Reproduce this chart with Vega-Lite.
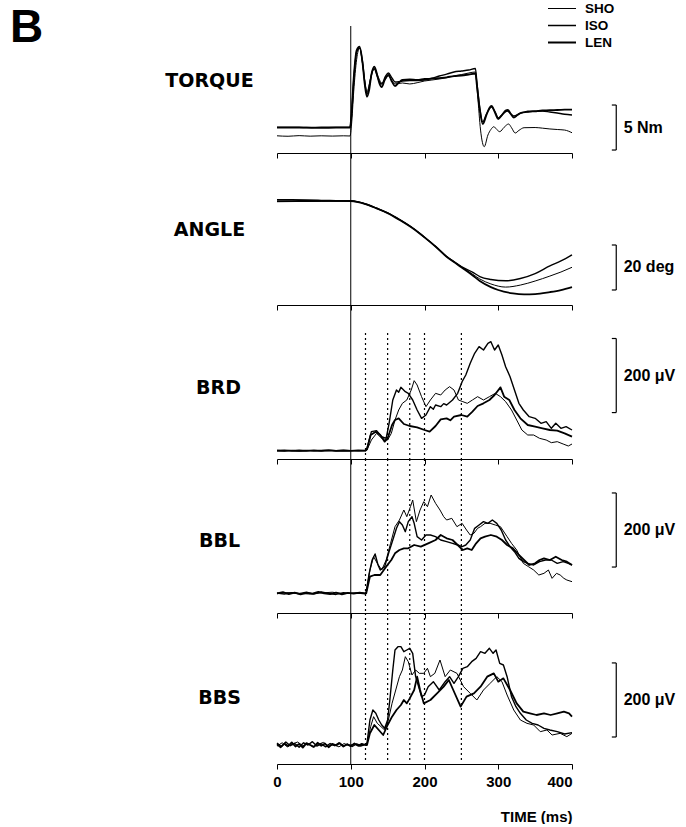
{
  "$schema": "https://vega.github.io/schema/vega-lite/v6.json",
  "background": "white",
  "padding": {"left": 10, "top": 0, "right": 0, "bottom": 0},
  "spacing": 0,
  "bounds": "flush",
  "config": {
    "view": {"stroke": null},
    "axis": {"grid": false, "domainColor": "black", "tickColor": "black", "labelColor": "black", "titleColor": "black"},
    "axisX": {"tickSize": 5, "domainWidth": 1, "tickWidth": 1, "labelFont": "Liberation Sans", "labelFontSize": 15, "labelFontWeight": "bold", "labelPadding": 5, "titleFont": "Liberation Sans", "titleFontSize": 15, "titleFontWeight": "bold"},
    "axisY": {"domain": false, "ticks": false, "labels": false, "titleAngle": 0, "titleAlign": "center", "titleBaseline": "middle", "titleFont": "DejaVu Sans", "titleFontSize": 19, "titleFontWeight": "bold"}
  },
  "datasets": {
    "torque": [
      {"cond":"LEN","t":0,"v":0},{"cond":"LEN","t":20,"v":0.02},{"cond":"LEN","t":40,"v":0},{"cond":"LEN","t":60,"v":-0.02},{"cond":"LEN","t":80,"v":0},{"cond":"LEN","t":99,"v":0},{"cond":"LEN","t":101,"v":1.5},{"cond":"LEN","t":104,"v":5.5},{"cond":"LEN","t":108,"v":8.6},{"cond":"LEN","t":112,"v":9.0},{"cond":"LEN","t":116,"v":7.2},{"cond":"LEN","t":119,"v":4.8},{"cond":"LEN","t":122,"v":3.44},{"cond":"LEN","t":125,"v":4.2},{"cond":"LEN","t":128,"v":5.9},{"cond":"LEN","t":132,"v":6.78},{"cond":"LEN","t":136,"v":5.8},{"cond":"LEN","t":139,"v":4.9},{"cond":"LEN","t":142,"v":4.52},{"cond":"LEN","t":146,"v":5.3},{"cond":"LEN","t":151,"v":5.86},{"cond":"LEN","t":156,"v":5.1},{"cond":"LEN","t":160,"v":4.63},{"cond":"LEN","t":165,"v":5.0},{"cond":"LEN","t":170,"v":5.3},{"cond":"LEN","t":180,"v":5.36},{"cond":"LEN","t":190,"v":5.3},{"cond":"LEN","t":200,"v":5.41},{"cond":"LEN","t":210,"v":5.45},{"cond":"LEN","t":220,"v":5.52},{"cond":"LEN","t":230,"v":5.6},{"cond":"LEN","t":240,"v":5.74},{"cond":"LEN","t":250,"v":5.8},{"cond":"LEN","t":260,"v":5.91},{"cond":"LEN","t":269,"v":6.02},{"cond":"LEN","t":271,"v":4.74},{"cond":"LEN","t":275,"v":1.97},{"cond":"LEN","t":279,"v":0.41},{"cond":"LEN","t":284,"v":1.41},{"cond":"LEN","t":288,"v":2.2},{"cond":"LEN","t":291,"v":2.41},{"cond":"LEN","t":295,"v":1.8},{"cond":"LEN","t":300,"v":0.97},{"cond":"LEN","t":305,"v":1.4},{"cond":"LEN","t":310,"v":1.9},{"cond":"LEN","t":313,"v":1.97},{"cond":"LEN","t":317,"v":1.52},{"cond":"LEN","t":321,"v":1.13},{"cond":"LEN","t":326,"v":1.4},{"cond":"LEN","t":330,"v":1.63},{"cond":"LEN","t":340,"v":1.8},{"cond":"LEN","t":350,"v":1.85},{"cond":"LEN","t":360,"v":1.91},{"cond":"LEN","t":370,"v":1.95},{"cond":"LEN","t":380,"v":1.97},{"cond":"LEN","t":390,"v":2.0},{"cond":"LEN","t":400,"v":2.02},
      {"cond":"ISO","t":0,"v":0.05},{"cond":"ISO","t":20,"v":0.07},{"cond":"ISO","t":40,"v":0.03},{"cond":"ISO","t":60,"v":0.05},{"cond":"ISO","t":80,"v":0.06},{"cond":"ISO","t":99,"v":0.05},{"cond":"ISO","t":101,"v":1.3},{"cond":"ISO","t":104,"v":5.2},{"cond":"ISO","t":108,"v":8.4},{"cond":"ISO","t":112,"v":8.86},{"cond":"ISO","t":116,"v":7.3},{"cond":"ISO","t":119,"v":5.1},{"cond":"ISO","t":122,"v":3.74},{"cond":"ISO","t":126,"v":5.0},{"cond":"ISO","t":129,"v":6.2},{"cond":"ISO","t":132,"v":6.52},{"cond":"ISO","t":136,"v":5.7},{"cond":"ISO","t":139,"v":5.1},{"cond":"ISO","t":142,"v":4.86},{"cond":"ISO","t":147,"v":5.7},{"cond":"ISO","t":151,"v":6.08},{"cond":"ISO","t":156,"v":5.5},{"cond":"ISO","t":160,"v":5.08},{"cond":"ISO","t":165,"v":5.1},{"cond":"ISO","t":170,"v":5.19},{"cond":"ISO","t":180,"v":5.25},{"cond":"ISO","t":190,"v":5.25},{"cond":"ISO","t":200,"v":5.3},{"cond":"ISO","t":210,"v":5.5},{"cond":"ISO","t":220,"v":5.74},{"cond":"ISO","t":230,"v":5.95},{"cond":"ISO","t":240,"v":6.19},{"cond":"ISO","t":250,"v":6.3},{"cond":"ISO","t":260,"v":6.41},{"cond":"ISO","t":269,"v":6.58},{"cond":"ISO","t":271,"v":5.08},{"cond":"ISO","t":275,"v":2.19},{"cond":"ISO","t":279,"v":0.63},{"cond":"ISO","t":284,"v":1.52},{"cond":"ISO","t":291,"v":2.3},{"cond":"ISO","t":296,"v":1.7},{"cond":"ISO","t":300,"v":1.08},{"cond":"ISO","t":306,"v":1.5},{"cond":"ISO","t":312,"v":1.86},{"cond":"ISO","t":317,"v":1.55},{"cond":"ISO","t":321,"v":1.3},{"cond":"ISO","t":330,"v":1.6},{"cond":"ISO","t":340,"v":1.74},{"cond":"ISO","t":350,"v":1.8},{"cond":"ISO","t":360,"v":1.86},{"cond":"ISO","t":370,"v":1.75},{"cond":"ISO","t":380,"v":1.63},{"cond":"ISO","t":390,"v":1.5},{"cond":"ISO","t":400,"v":1.41},
      {"cond":"SHO","t":0,"v":-0.9},{"cond":"SHO","t":15,"v":-0.95},{"cond":"SHO","t":30,"v":-0.88},{"cond":"SHO","t":45,"v":-0.94},{"cond":"SHO","t":60,"v":-0.9},{"cond":"SHO","t":75,"v":-0.93},{"cond":"SHO","t":90,"v":-0.9},{"cond":"SHO","t":99,"v":-0.92},{"cond":"SHO","t":101,"v":0.3},{"cond":"SHO","t":104,"v":4.0},{"cond":"SHO","t":108,"v":7.6},{"cond":"SHO","t":112,"v":8.86},{"cond":"SHO","t":116,"v":7.1},{"cond":"SHO","t":119,"v":5.2},{"cond":"SHO","t":122,"v":3.97},{"cond":"SHO","t":127,"v":5.52},{"cond":"SHO","t":132,"v":6.63},{"cond":"SHO","t":137,"v":5.7},{"cond":"SHO","t":142,"v":4.97},{"cond":"SHO","t":147,"v":5.4},{"cond":"SHO","t":151,"v":5.74},{"cond":"SHO","t":156,"v":5.2},{"cond":"SHO","t":160,"v":4.86},{"cond":"SHO","t":170,"v":4.97},{"cond":"SHO","t":180,"v":4.86},{"cond":"SHO","t":190,"v":5.0},{"cond":"SHO","t":200,"v":5.19},{"cond":"SHO","t":210,"v":5.3},{"cond":"SHO","t":220,"v":5.41},{"cond":"SHO","t":230,"v":5.55},{"cond":"SHO","t":240,"v":5.74},{"cond":"SHO","t":250,"v":5.9},{"cond":"SHO","t":260,"v":6.08},{"cond":"SHO","t":269,"v":6.19},{"cond":"SHO","t":272,"v":3.63},{"cond":"SHO","t":276,"v":-0.26},{"cond":"SHO","t":281,"v":-2.11},{"cond":"SHO","t":286,"v":-0.81},{"cond":"SHO","t":290,"v":-0.2},{"cond":"SHO","t":294,"v":0.11},{"cond":"SHO","t":298,"v":-0.2},{"cond":"SHO","t":302,"v":-0.44},{"cond":"SHO","t":308,"v":0.05},{"cond":"SHO","t":314,"v":0.41},{"cond":"SHO","t":318,"v":0.0},{"cond":"SHO","t":323,"v":-0.59},{"cond":"SHO","t":328,"v":-0.3},{"cond":"SHO","t":335,"v":0.0},{"cond":"SHO","t":350,"v":0.02},{"cond":"SHO","t":360,"v":-0.05},{"cond":"SHO","t":370,"v":-0.14},{"cond":"SHO","t":380,"v":-0.2},{"cond":"SHO","t":390,"v":-0.26},{"cond":"SHO","t":400,"v":-0.56}
    ],
    "angle": [
      {"cond":"LEN","t":0,"v":100.4},{"cond":"LEN","t":20,"v":100.35},{"cond":"LEN","t":40,"v":100.2},{"cond":"LEN","t":60,"v":100.05},{"cond":"LEN","t":80,"v":99.95},{"cond":"LEN","t":100,"v":99.87},{"cond":"LEN","t":110,"v":99.4},{"cond":"LEN","t":120,"v":98.5},{"cond":"LEN","t":135,"v":96.6},{"cond":"LEN","t":150,"v":94.5},{"cond":"LEN","t":167,"v":91.3},{"cond":"LEN","t":185,"v":87.5},{"cond":"LEN","t":200,"v":83.7},{"cond":"LEN","t":215,"v":79.6},{"cond":"LEN","t":230,"v":75.1},{"cond":"LEN","t":240,"v":72.7},{"cond":"LEN","t":250,"v":70.4},{"cond":"LEN","t":265,"v":66.9},{"cond":"LEN","t":275,"v":64.3},{"cond":"LEN","t":290,"v":61.6},{"cond":"LEN","t":300,"v":60.3},{"cond":"LEN","t":320,"v":58.8},{"cond":"LEN","t":335,"v":58.4},{"cond":"LEN","t":350,"v":58.5},{"cond":"LEN","t":370,"v":59.4},{"cond":"LEN","t":385,"v":60.3},{"cond":"LEN","t":400,"v":61.6},
      {"cond":"ISO","t":0,"v":99.7},{"cond":"ISO","t":30,"v":99.75},{"cond":"ISO","t":60,"v":99.8},{"cond":"ISO","t":80,"v":99.85},{"cond":"ISO","t":100,"v":99.87},{"cond":"ISO","t":110,"v":99.45},{"cond":"ISO","t":120,"v":98.55},{"cond":"ISO","t":135,"v":96.65},{"cond":"ISO","t":150,"v":94.55},{"cond":"ISO","t":167,"v":91.45},{"cond":"ISO","t":185,"v":87.65},{"cond":"ISO","t":200,"v":83.75},{"cond":"ISO","t":215,"v":79.7},{"cond":"ISO","t":230,"v":75.2},{"cond":"ISO","t":240,"v":72.9},{"cond":"ISO","t":250,"v":70.7},{"cond":"ISO","t":265,"v":68.3},{"cond":"ISO","t":275,"v":66.3},{"cond":"ISO","t":290,"v":65.0},{"cond":"ISO","t":310,"v":64.4},{"cond":"ISO","t":330,"v":65.4},{"cond":"ISO","t":350,"v":67.6},{"cond":"ISO","t":370,"v":71.0},{"cond":"ISO","t":385,"v":73.2},{"cond":"ISO","t":400,"v":75.9},
      {"cond":"SHO","t":0,"v":99.55},{"cond":"SHO","t":30,"v":99.65},{"cond":"SHO","t":60,"v":99.75},{"cond":"SHO","t":80,"v":99.82},{"cond":"SHO","t":100,"v":99.87},{"cond":"SHO","t":110,"v":99.45},{"cond":"SHO","t":120,"v":98.55},{"cond":"SHO","t":135,"v":96.65},{"cond":"SHO","t":150,"v":94.55},{"cond":"SHO","t":167,"v":91.45},{"cond":"SHO","t":185,"v":87.65},{"cond":"SHO","t":200,"v":83.75},{"cond":"SHO","t":215,"v":79.7},{"cond":"SHO","t":230,"v":75.15},{"cond":"SHO","t":240,"v":72.85},{"cond":"SHO","t":250,"v":70.6},{"cond":"SHO","t":265,"v":67.4},{"cond":"SHO","t":275,"v":65.2},{"cond":"SHO","t":290,"v":63.0},{"cond":"SHO","t":310,"v":61.6},{"cond":"SHO","t":330,"v":62.5},{"cond":"SHO","t":350,"v":64.3},{"cond":"SHO","t":370,"v":66.5},{"cond":"SHO","t":385,"v":68.3},{"cond":"SHO","t":400,"v":70.4}
    ],
    "brd": [
      {"cond":"ISO","t":0,"v":0.5},{"cond":"ISO","t":10,"v":-0.9},{"cond":"ISO","t":20,"v":0.9},{"cond":"ISO","t":30,"v":-0.5},{"cond":"ISO","t":40,"v":0.7},{"cond":"ISO","t":50,"v":-0.7},{"cond":"ISO","t":60,"v":0.4},{"cond":"ISO","t":70,"v":1.5},{"cond":"ISO","t":80,"v":-0.4},{"cond":"ISO","t":90,"v":1.2},{"cond":"ISO","t":100,"v":0},{"cond":"ISO","t":110,"v":-0.6},{"cond":"ISO","t":120,"v":0.5},{"cond":"ISO","t":122,"v":6.3},{"cond":"ISO","t":128,"v":51.3},{"cond":"ISO","t":135,"v":54},{"cond":"ISO","t":142,"v":37.8},{"cond":"ISO","t":148,"v":33.3},{"cond":"ISO","t":152,"v":73.8},{"cond":"ISO","t":157,"v":136.8},{"cond":"ISO","t":162,"v":163.8},{"cond":"ISO","t":165,"v":158},{"cond":"ISO","t":168,"v":171},{"cond":"ISO","t":174,"v":159.3},{"cond":"ISO","t":178,"v":154.8},{"cond":"ISO","t":184,"v":136.8},{"cond":"ISO","t":190,"v":109.8},{"cond":"ISO","t":196,"v":87.3},{"cond":"ISO","t":202,"v":96.3},{"cond":"ISO","t":208,"v":118.8},{"cond":"ISO","t":212,"v":112},{"cond":"ISO","t":215,"v":123.3},{"cond":"ISO","t":222,"v":118.8},{"cond":"ISO","t":226,"v":127},{"cond":"ISO","t":230,"v":123.3},{"cond":"ISO","t":238,"v":136.8},{"cond":"ISO","t":245,"v":154.8},{"cond":"ISO","t":251,"v":186.3},{"cond":"ISO","t":256,"v":204.3},{"cond":"ISO","t":262,"v":235.8},{"cond":"ISO","t":268,"v":262.8},{"cond":"ISO","t":274,"v":280.8},{"cond":"ISO","t":280,"v":271.8},{"cond":"ISO","t":286,"v":289.8},{"cond":"ISO","t":290,"v":294.3},{"cond":"ISO","t":295,"v":271.8},{"cond":"ISO","t":300,"v":285.3},{"cond":"ISO","t":305,"v":258.3},{"cond":"ISO","t":310,"v":226.8},{"cond":"ISO","t":316,"v":199.8},{"cond":"ISO","t":322,"v":163.8},{"cond":"ISO","t":328,"v":127.8},{"cond":"ISO","t":334,"v":109.8},{"cond":"ISO","t":342,"v":91.8},{"cond":"ISO","t":350,"v":87.3},{"cond":"ISO","t":358,"v":73.8},{"cond":"ISO","t":365,"v":78.3},{"cond":"ISO","t":372,"v":60.3},{"cond":"ISO","t":378,"v":73.8},{"cond":"ISO","t":385,"v":60.3},{"cond":"ISO","t":392,"v":64.8},{"cond":"ISO","t":400,"v":55.8},
      {"cond":"LEN","t":0,"v":0},{"cond":"LEN","t":10,"v":0.8},{"cond":"LEN","t":20,"v":-0.5},{"cond":"LEN","t":30,"v":0.4},{"cond":"LEN","t":40,"v":-0.8},{"cond":"LEN","t":50,"v":0.6},{"cond":"LEN","t":60,"v":-0.3},{"cond":"LEN","t":70,"v":0.9},{"cond":"LEN","t":80,"v":-0.6},{"cond":"LEN","t":90,"v":0.3},{"cond":"LEN","t":100,"v":-0.4},{"cond":"LEN","t":110,"v":0.6},{"cond":"LEN","t":120,"v":0},{"cond":"LEN","t":122,"v":3.6},{"cond":"LEN","t":127,"v":42.3},{"cond":"LEN","t":134,"v":51.3},{"cond":"LEN","t":140,"v":42.3},{"cond":"LEN","t":146,"v":24.3},{"cond":"LEN","t":150,"v":33.3},{"cond":"LEN","t":156,"v":69.3},{"cond":"LEN","t":160,"v":82.8},{"cond":"LEN","t":165,"v":87.3},{"cond":"LEN","t":172,"v":72},{"cond":"LEN","t":180,"v":66.6},{"cond":"LEN","t":190,"v":63},{"cond":"LEN","t":200,"v":55.8},{"cond":"LEN","t":207,"v":51.3},{"cond":"LEN","t":215,"v":66.6},{"cond":"LEN","t":222,"v":84.6},{"cond":"LEN","t":230,"v":87.3},{"cond":"LEN","t":235,"v":82},{"cond":"LEN","t":240,"v":91.8},{"cond":"LEN","t":250,"v":96.3},{"cond":"LEN","t":258,"v":91.8},{"cond":"LEN","t":265,"v":105.3},{"cond":"LEN","t":272,"v":120.6},{"cond":"LEN","t":280,"v":127.8},{"cond":"LEN","t":288,"v":136.8},{"cond":"LEN","t":295,"v":150.3},{"cond":"LEN","t":303,"v":171},{"cond":"LEN","t":308,"v":145.8},{"cond":"LEN","t":315,"v":136.8},{"cond":"LEN","t":322,"v":109.8},{"cond":"LEN","t":330,"v":87.3},{"cond":"LEN","t":340,"v":69.3},{"cond":"LEN","t":350,"v":64.8},{"cond":"LEN","t":360,"v":60.3},{"cond":"LEN","t":370,"v":55.8},{"cond":"LEN","t":380,"v":54},{"cond":"LEN","t":390,"v":46.8},{"cond":"LEN","t":400,"v":37.8},
      {"cond":"SHO","t":0,"v":-0.5},{"cond":"SHO","t":15,"v":0.6},{"cond":"SHO","t":30,"v":-0.4},{"cond":"SHO","t":45,"v":0.5},{"cond":"SHO","t":60,"v":-0.6},{"cond":"SHO","t":75,"v":0.3},{"cond":"SHO","t":90,"v":-0.2},{"cond":"SHO","t":105,"v":0.4},{"cond":"SHO","t":120,"v":0},{"cond":"SHO","t":122,"v":1.8},{"cond":"SHO","t":128,"v":28.8},{"cond":"SHO","t":135,"v":46.8},{"cond":"SHO","t":142,"v":33.3},{"cond":"SHO","t":150,"v":28.8},{"cond":"SHO","t":155,"v":46.8},{"cond":"SHO","t":160,"v":82.8},{"cond":"SHO","t":165,"v":109.8},{"cond":"SHO","t":170,"v":127.8},{"cond":"SHO","t":176,"v":136.8},{"cond":"SHO","t":182,"v":163.8},{"cond":"SHO","t":186,"v":189},{"cond":"SHO","t":190,"v":177.3},{"cond":"SHO","t":196,"v":145.8},{"cond":"SHO","t":202,"v":118.8},{"cond":"SHO","t":208,"v":136.8},{"cond":"SHO","t":215,"v":154.8},{"cond":"SHO","t":222,"v":150.3},{"cond":"SHO","t":228,"v":163.8},{"cond":"SHO","t":234,"v":172.8},{"cond":"SHO","t":240,"v":163.8},{"cond":"SHO","t":246,"v":136.8},{"cond":"SHO","t":252,"v":132.3},{"cond":"SHO","t":258,"v":127.8},{"cond":"SHO","t":265,"v":136.8},{"cond":"SHO","t":272,"v":145.8},{"cond":"SHO","t":280,"v":136.8},{"cond":"SHO","t":288,"v":145.8},{"cond":"SHO","t":296,"v":154.8},{"cond":"SHO","t":303,"v":145.8},{"cond":"SHO","t":310,"v":132.3},{"cond":"SHO","t":318,"v":109.8},{"cond":"SHO","t":325,"v":82.8},{"cond":"SHO","t":332,"v":55.8},{"cond":"SHO","t":340,"v":42.3},{"cond":"SHO","t":348,"v":42.3},{"cond":"SHO","t":356,"v":33.3},{"cond":"SHO","t":365,"v":28.8},{"cond":"SHO","t":372,"v":21.6},{"cond":"SHO","t":380,"v":24.3},{"cond":"SHO","t":388,"v":18},{"cond":"SHO","t":395,"v":12.6},{"cond":"SHO","t":400,"v":18}
    ],
    "bbl": [
      {"cond":"ISO","t":0,"v":1},{"cond":"ISO","t":10,"v":-2},{"cond":"ISO","t":20,"v":2},{"cond":"ISO","t":30,"v":-1},{"cond":"ISO","t":40,"v":3},{"cond":"ISO","t":50,"v":-2},{"cond":"ISO","t":60,"v":4},{"cond":"ISO","t":70,"v":0},{"cond":"ISO","t":80,"v":-3},{"cond":"ISO","t":90,"v":2},{"cond":"ISO","t":100,"v":0},{"cond":"ISO","t":110,"v":1},{"cond":"ISO","t":120,"v":-1},{"cond":"ISO","t":121,"v":4.5},{"cond":"ISO","t":125,"v":54},{"cond":"ISO","t":129,"v":90},{"cond":"ISO","t":133,"v":106.2},{"cond":"ISO","t":137,"v":76.5},{"cond":"ISO","t":140,"v":63},{"cond":"ISO","t":146,"v":72},{"cond":"ISO","t":152,"v":112.5},{"cond":"ISO","t":157,"v":144},{"cond":"ISO","t":162,"v":175.5},{"cond":"ISO","t":166,"v":193.5},{"cond":"ISO","t":170,"v":184.5},{"cond":"ISO","t":174,"v":166.5},{"cond":"ISO","t":178,"v":193.5},{"cond":"ISO","t":183,"v":207},{"cond":"ISO","t":186,"v":189},{"cond":"ISO","t":190,"v":153},{"cond":"ISO","t":196,"v":144},{"cond":"ISO","t":202,"v":157.5},{"cond":"ISO","t":208,"v":157.5},{"cond":"ISO","t":215,"v":153},{"cond":"ISO","t":222,"v":144},{"cond":"ISO","t":230,"v":139.5},{"cond":"ISO","t":238,"v":135},{"cond":"ISO","t":245,"v":130.5},{"cond":"ISO","t":251,"v":126},{"cond":"ISO","t":256,"v":130.5},{"cond":"ISO","t":262,"v":144},{"cond":"ISO","t":268,"v":175.5},{"cond":"ISO","t":274,"v":184.5},{"cond":"ISO","t":280,"v":193.5},{"cond":"ISO","t":286,"v":189},{"cond":"ISO","t":292,"v":198},{"cond":"ISO","t":298,"v":189},{"cond":"ISO","t":304,"v":171},{"cond":"ISO","t":310,"v":144},{"cond":"ISO","t":316,"v":126},{"cond":"ISO","t":322,"v":112.5},{"cond":"ISO","t":328,"v":94.5},{"cond":"ISO","t":334,"v":85.5},{"cond":"ISO","t":340,"v":81},{"cond":"ISO","t":348,"v":76.5},{"cond":"ISO","t":356,"v":85.5},{"cond":"ISO","t":364,"v":90},{"cond":"ISO","t":372,"v":90},{"cond":"ISO","t":380,"v":81},{"cond":"ISO","t":388,"v":85.5},{"cond":"ISO","t":395,"v":81},{"cond":"ISO","t":400,"v":76.5},
      {"cond":"SHO","t":0,"v":-1},{"cond":"SHO","t":15,"v":2},{"cond":"SHO","t":30,"v":0},{"cond":"SHO","t":45,"v":-2},{"cond":"SHO","t":60,"v":1},{"cond":"SHO","t":75,"v":3},{"cond":"SHO","t":90,"v":-1},{"cond":"SHO","t":105,"v":1},{"cond":"SHO","t":120,"v":0},{"cond":"SHO","t":121,"v":1.8},{"cond":"SHO","t":126,"v":63},{"cond":"SHO","t":131,"v":99},{"cond":"SHO","t":136,"v":81},{"cond":"SHO","t":142,"v":63},{"cond":"SHO","t":148,"v":90},{"cond":"SHO","t":154,"v":135},{"cond":"SHO","t":160,"v":180},{"cond":"SHO","t":166,"v":198},{"cond":"SHO","t":172,"v":225},{"cond":"SHO","t":176,"v":207},{"cond":"SHO","t":181,"v":234},{"cond":"SHO","t":184,"v":252},{"cond":"SHO","t":189,"v":193.5},{"cond":"SHO","t":194,"v":225},{"cond":"SHO","t":199,"v":247.5},{"cond":"SHO","t":204,"v":234},{"cond":"SHO","t":209,"v":265.5},{"cond":"SHO","t":215,"v":243},{"cond":"SHO","t":221,"v":225},{"cond":"SHO","t":226,"v":207},{"cond":"SHO","t":230,"v":198},{"cond":"SHO","t":237,"v":202.5},{"cond":"SHO","t":244,"v":180},{"cond":"SHO","t":251,"v":189},{"cond":"SHO","t":257,"v":171},{"cond":"SHO","t":262,"v":157.5},{"cond":"SHO","t":267,"v":162},{"cond":"SHO","t":272,"v":175.5},{"cond":"SHO","t":276,"v":180},{"cond":"SHO","t":282,"v":189},{"cond":"SHO","t":289,"v":189},{"cond":"SHO","t":296,"v":184.5},{"cond":"SHO","t":303,"v":180},{"cond":"SHO","t":312,"v":153},{"cond":"SHO","t":318,"v":135},{"cond":"SHO","t":325,"v":117},{"cond":"SHO","t":334,"v":81},{"cond":"SHO","t":341,"v":72},{"cond":"SHO","t":348,"v":63},{"cond":"SHO","t":355,"v":49.5},{"cond":"SHO","t":362,"v":54},{"cond":"SHO","t":368,"v":63},{"cond":"SHO","t":373,"v":40.5},{"cond":"SHO","t":379,"v":54},{"cond":"SHO","t":384,"v":49.5},{"cond":"SHO","t":389,"v":40.5},{"cond":"SHO","t":393,"v":36},{"cond":"SHO","t":400,"v":31.5},
      {"cond":"LEN","t":0,"v":0},{"cond":"LEN","t":8,"v":3},{"cond":"LEN","t":16,"v":-2},{"cond":"LEN","t":24,"v":2},{"cond":"LEN","t":32,"v":-3},{"cond":"LEN","t":40,"v":1},{"cond":"LEN","t":48,"v":-1},{"cond":"LEN","t":56,"v":4},{"cond":"LEN","t":64,"v":0},{"cond":"LEN","t":72,"v":-2},{"cond":"LEN","t":80,"v":2},{"cond":"LEN","t":88,"v":-3},{"cond":"LEN","t":96,"v":1},{"cond":"LEN","t":104,"v":-1},{"cond":"LEN","t":112,"v":2},{"cond":"LEN","t":120,"v":0},{"cond":"LEN","t":121,"v":0},{"cond":"LEN","t":126,"v":45},{"cond":"LEN","t":132,"v":49.5},{"cond":"LEN","t":140,"v":49.5},{"cond":"LEN","t":148,"v":72},{"cond":"LEN","t":155,"v":90},{"cond":"LEN","t":160,"v":108},{"cond":"LEN","t":166,"v":117},{"cond":"LEN","t":172,"v":121.5},{"cond":"LEN","t":178,"v":121.5},{"cond":"LEN","t":186,"v":130.5},{"cond":"LEN","t":195,"v":126},{"cond":"LEN","t":205,"v":135},{"cond":"LEN","t":215,"v":144},{"cond":"LEN","t":222,"v":157.5},{"cond":"LEN","t":230,"v":148.5},{"cond":"LEN","t":238,"v":144},{"cond":"LEN","t":245,"v":130.5},{"cond":"LEN","t":252,"v":117},{"cond":"LEN","t":258,"v":121.5},{"cond":"LEN","t":264,"v":117},{"cond":"LEN","t":270,"v":135},{"cond":"LEN","t":276,"v":148.5},{"cond":"LEN","t":282,"v":153},{"cond":"LEN","t":290,"v":157.5},{"cond":"LEN","t":298,"v":153},{"cond":"LEN","t":305,"v":144},{"cond":"LEN","t":312,"v":130.5},{"cond":"LEN","t":320,"v":121.5},{"cond":"LEN","t":328,"v":103.5},{"cond":"LEN","t":335,"v":90},{"cond":"LEN","t":342,"v":76.5},{"cond":"LEN","t":350,"v":81},{"cond":"LEN","t":356,"v":90},{"cond":"LEN","t":362,"v":94.5},{"cond":"LEN","t":370,"v":90},{"cond":"LEN","t":378,"v":99},{"cond":"LEN","t":386,"v":90},{"cond":"LEN","t":393,"v":85.5},{"cond":"LEN","t":400,"v":76.5}
    ],
    "bbs": [
      {"cond":"ISO","t":0,"v":5},{"cond":"ISO","t":6,"v":-4},{"cond":"ISO","t":12,"v":8},{"cond":"ISO","t":18,"v":-2},{"cond":"ISO","t":24,"v":4},{"cond":"ISO","t":30,"v":-6},{"cond":"ISO","t":36,"v":6},{"cond":"ISO","t":42,"v":0},{"cond":"ISO","t":48,"v":9},{"cond":"ISO","t":54,"v":-3},{"cond":"ISO","t":60,"v":3},{"cond":"ISO","t":66,"v":-5},{"cond":"ISO","t":72,"v":4},{"cond":"ISO","t":78,"v":-2},{"cond":"ISO","t":84,"v":6},{"cond":"ISO","t":90,"v":-3},{"cond":"ISO","t":96,"v":2},{"cond":"ISO","t":102,"v":-4},{"cond":"ISO","t":108,"v":3},{"cond":"ISO","t":114,"v":-2},{"cond":"ISO","t":120,"v":1},{"cond":"ISO","t":122,"v":4.5},{"cond":"ISO","t":126,"v":67.5},{"cond":"ISO","t":130,"v":94.5},{"cond":"ISO","t":134,"v":85.5},{"cond":"ISO","t":138,"v":67.5},{"cond":"ISO","t":142,"v":54},{"cond":"ISO","t":146,"v":45},{"cond":"ISO","t":150,"v":67.5},{"cond":"ISO","t":153,"v":121.5},{"cond":"ISO","t":157,"v":202.5},{"cond":"ISO","t":160,"v":256.5},{"cond":"ISO","t":164,"v":265.5},{"cond":"ISO","t":168,"v":265.5},{"cond":"ISO","t":172,"v":252},{"cond":"ISO","t":176,"v":256.5},{"cond":"ISO","t":180,"v":261},{"cond":"ISO","t":184,"v":247.5},{"cond":"ISO","t":188,"v":184.5},{"cond":"ISO","t":192,"v":157.5},{"cond":"ISO","t":196,"v":130.5},{"cond":"ISO","t":200,"v":135},{"cond":"ISO","t":205,"v":157.5},{"cond":"ISO","t":212,"v":171},{"cond":"ISO","t":220,"v":148.5},{"cond":"ISO","t":228,"v":171},{"cond":"ISO","t":234,"v":184.5},{"cond":"ISO","t":240,"v":166.5},{"cond":"ISO","t":246,"v":184.5},{"cond":"ISO","t":252,"v":207},{"cond":"ISO","t":258,"v":211.5},{"cond":"ISO","t":264,"v":225},{"cond":"ISO","t":270,"v":234},{"cond":"ISO","t":276,"v":252},{"cond":"ISO","t":282,"v":247.5},{"cond":"ISO","t":288,"v":261},{"cond":"ISO","t":293,"v":247.5},{"cond":"ISO","t":297,"v":256.5},{"cond":"ISO","t":302,"v":220.5},{"cond":"ISO","t":307,"v":216},{"cond":"ISO","t":312,"v":184.5},{"cond":"ISO","t":318,"v":130.5},{"cond":"ISO","t":324,"v":103.5},{"cond":"ISO","t":330,"v":85.5},{"cond":"ISO","t":338,"v":67.5},{"cond":"ISO","t":346,"v":58.5},{"cond":"ISO","t":354,"v":54},{"cond":"ISO","t":362,"v":45},{"cond":"ISO","t":370,"v":40.5},{"cond":"ISO","t":380,"v":36},{"cond":"ISO","t":390,"v":29.7},{"cond":"ISO","t":400,"v":33.3},
      {"cond":"SHO","t":0,"v":-3},{"cond":"SHO","t":7,"v":6},{"cond":"SHO","t":14,"v":-5},{"cond":"SHO","t":21,"v":3},{"cond":"SHO","t":28,"v":8},{"cond":"SHO","t":35,"v":-2},{"cond":"SHO","t":42,"v":4},{"cond":"SHO","t":49,"v":-6},{"cond":"SHO","t":56,"v":2},{"cond":"SHO","t":63,"v":7},{"cond":"SHO","t":70,"v":-3},{"cond":"SHO","t":77,"v":1},{"cond":"SHO","t":84,"v":-5},{"cond":"SHO","t":91,"v":4},{"cond":"SHO","t":98,"v":-2},{"cond":"SHO","t":105,"v":3},{"cond":"SHO","t":112,"v":-4},{"cond":"SHO","t":119,"v":2},{"cond":"SHO","t":122,"v":2.7},{"cond":"SHO","t":127,"v":49.5},{"cond":"SHO","t":131,"v":76.5},{"cond":"SHO","t":136,"v":58.5},{"cond":"SHO","t":141,"v":49.5},{"cond":"SHO","t":146,"v":40.5},{"cond":"SHO","t":151,"v":67.5},{"cond":"SHO","t":156,"v":112.5},{"cond":"SHO","t":161,"v":148.5},{"cond":"SHO","t":166,"v":184.5},{"cond":"SHO","t":170,"v":202.5},{"cond":"SHO","t":174,"v":238.5},{"cond":"SHO","t":178,"v":225},{"cond":"SHO","t":183,"v":189},{"cond":"SHO","t":188,"v":202.5},{"cond":"SHO","t":193,"v":193.5},{"cond":"SHO","t":199,"v":193.5},{"cond":"SHO","t":204,"v":207},{"cond":"SHO","t":208,"v":184.5},{"cond":"SHO","t":214,"v":193.5},{"cond":"SHO","t":221,"v":229.5},{"cond":"SHO","t":228,"v":184.5},{"cond":"SHO","t":235,"v":202.5},{"cond":"SHO","t":244,"v":193.5},{"cond":"SHO","t":253,"v":157.5},{"cond":"SHO","t":262,"v":139.5},{"cond":"SHO","t":271,"v":121.5},{"cond":"SHO","t":280,"v":148.5},{"cond":"SHO","t":289,"v":166.5},{"cond":"SHO","t":298,"v":184.5},{"cond":"SHO","t":305,"v":171},{"cond":"SHO","t":312,"v":135},{"cond":"SHO","t":321,"v":94.5},{"cond":"SHO","t":330,"v":67.5},{"cond":"SHO","t":339,"v":58.5},{"cond":"SHO","t":348,"v":54},{"cond":"SHO","t":357,"v":36},{"cond":"SHO","t":366,"v":40.5},{"cond":"SHO","t":373,"v":27},{"cond":"SHO","t":384,"v":31.5},{"cond":"SHO","t":393,"v":22.5},{"cond":"SHO","t":400,"v":31.5},
      {"cond":"LEN","t":0,"v":2},{"cond":"LEN","t":5,"v":-6},{"cond":"LEN","t":10,"v":4},{"cond":"LEN","t":15,"v":-3},{"cond":"LEN","t":20,"v":7},{"cond":"LEN","t":25,"v":-4},{"cond":"LEN","t":30,"v":3},{"cond":"LEN","t":35,"v":-7},{"cond":"LEN","t":40,"v":5},{"cond":"LEN","t":45,"v":0},{"cond":"LEN","t":50,"v":-5},{"cond":"LEN","t":55,"v":6},{"cond":"LEN","t":60,"v":-2},{"cond":"LEN","t":65,"v":4},{"cond":"LEN","t":70,"v":-6},{"cond":"LEN","t":75,"v":3},{"cond":"LEN","t":80,"v":-1},{"cond":"LEN","t":85,"v":5},{"cond":"LEN","t":90,"v":-4},{"cond":"LEN","t":95,"v":2},{"cond":"LEN","t":100,"v":-3},{"cond":"LEN","t":105,"v":4},{"cond":"LEN","t":110,"v":-2},{"cond":"LEN","t":115,"v":3},{"cond":"LEN","t":120,"v":0},{"cond":"LEN","t":122,"v":0},{"cond":"LEN","t":126,"v":31.5},{"cond":"LEN","t":132,"v":54},{"cond":"LEN","t":138,"v":40.5},{"cond":"LEN","t":144,"v":27},{"cond":"LEN","t":150,"v":54},{"cond":"LEN","t":156,"v":76.5},{"cond":"LEN","t":162,"v":94.5},{"cond":"LEN","t":168,"v":108},{"cond":"LEN","t":172,"v":121.5},{"cond":"LEN","t":176,"v":112.5},{"cond":"LEN","t":180,"v":126},{"cond":"LEN","t":186,"v":148.5},{"cond":"LEN","t":190,"v":184.5},{"cond":"LEN","t":194,"v":148.5},{"cond":"LEN","t":199,"v":112.5},{"cond":"LEN","t":208,"v":121.5},{"cond":"LEN","t":217,"v":139.5},{"cond":"LEN","t":226,"v":157.5},{"cond":"LEN","t":233,"v":175.5},{"cond":"LEN","t":239,"v":148.5},{"cond":"LEN","t":249,"v":103.5},{"cond":"LEN","t":257,"v":130.5},{"cond":"LEN","t":267,"v":139.5},{"cond":"LEN","t":276,"v":157.5},{"cond":"LEN","t":285,"v":184.5},{"cond":"LEN","t":294,"v":193.5},{"cond":"LEN","t":300,"v":171},{"cond":"LEN","t":307,"v":180},{"cond":"LEN","t":316,"v":148.5},{"cond":"LEN","t":325,"v":112.5},{"cond":"LEN","t":334,"v":90},{"cond":"LEN","t":343,"v":85.5},{"cond":"LEN","t":352,"v":81},{"cond":"LEN","t":362,"v":85.5},{"cond":"LEN","t":371,"v":81},{"cond":"LEN","t":380,"v":85.5},{"cond":"LEN","t":389,"v":90},{"cond":"LEN","t":396,"v":85.5},{"cond":"LEN","t":400,"v":76.5}
    ],
    "onset": [{"t": 100}],
    "markers": [{"t": 120}, {"t": 150}, {"t": 180}, {"t": 200}, {"t": 250}]
  },
  "vconcat": [
    {
      "width": 295, "height": 127,
      "layer": [
        {"data": {"name": "torque"}, "mark": {"type": "line", "color": "black", "interpolate": "monotone", "strokeJoin": "round"},
         "encoding": {
           "x": {"field": "t", "type": "quantitative", "scale": {"domain": [0, 400], "nice": false}, "axis": {"values": [0,50,100,150,200,250,300,350,400], "labels": false, "title": null}},
           "y": {"field": "v", "type": "quantitative", "scale": {"domain": [-2.81, 11.3], "nice": false, "zero": false}, "axis": {"title": "TORQUE", "titleX": -68, "titleY": 54}},
           "strokeWidth": {"field": "cond", "type": "ordinal", "scale": {"domain": ["SHO", "ISO", "LEN"], "range": [1, 1.8, 3.5]},
             "legend": {"orient": "none", "legendX": 270, "legendY": -26, "padding": 0, "title": null, "symbolType": "stroke", "symbolStrokeColor": "black", "symbolSize": 784, "clipHeight": 17, "rowPadding": 0, "labelFont": "Liberation Sans", "labelFontWeight": "bold", "labelFontSize": 13.5, "labelColor": "black", "labelOffset": 8,
               "encode": {"symbols": {"update": {"strokeWidth": {"scale": "strokeWidth", "field": "value"}}}}}}
         }},
        {"data": {"name": "onset"}, "mark": {"type": "rule", "color": "black", "strokeWidth": 1}, "encoding": {"x": {"field": "t", "type": "quantitative"}}},
        {"data": {"values": [{"label": "B"}]}, "mark": {"type": "text", "align": "left", "baseline": "alphabetic", "dy": 16, "font": "Liberation Sans", "fontSize": 46, "fontWeight": "bold", "color": "black"}, "encoding": {"x": {"datum": -362}, "y": {"datum": 11.3}, "text": {"field": "label"}}},
        {"data": {"values": [{"label": "5 Nm"}]}, "mark": {"type": "rule", "color": "black", "strokeWidth": 1.2}, "encoding": {"x": {"datum": 460}, "y": {"datum": -2.48}, "y2": {"datum": 2.52}}},
        {"data": {"values": [{"label": "5 Nm"}]}, "mark": {"type": "rule", "color": "black", "strokeWidth": 1.2}, "encoding": {"x": {"datum": 454}, "x2": {"datum": 460}, "y": {"datum": -2.48}}},
        {"data": {"values": [{"label": "5 Nm"}]}, "mark": {"type": "rule", "color": "black", "strokeWidth": 1.2}, "encoding": {"x": {"datum": 454}, "x2": {"datum": 460}, "y": {"datum": 2.52}}},
        {"data": {"values": [{"label": "5 Nm"}]}, "mark": {"type": "text", "align": "left", "baseline": "middle", "font": "Liberation Sans", "fontSize": 16, "fontWeight": "bold", "color": "black"}, "encoding": {"x": {"datum": 470}, "y": {"datum": 0.02}, "text": {"field": "label"}}}
      ]
    },
    {
      "width": 295, "height": 152,
      "layer": [
        {"data": {"name": "angle"}, "mark": {"type": "line", "color": "black", "interpolate": "monotone", "strokeJoin": "round"},
         "encoding": {
           "x": {"field": "t", "type": "quantitative", "scale": {"domain": [0, 400], "nice": false}, "axis": {"values": [0,50,100,150,200,250,300,350,400], "labels": false, "title": null}},
           "y": {"field": "v", "type": "quantitative", "scale": {"domain": [53.64, 121.2], "nice": false, "zero": false}, "axis": {"title": "ANGLE", "titleX": -68, "titleY": 76}},
           "strokeWidth": {"field": "cond", "type": "ordinal", "scale": {"domain": ["SHO", "ISO", "LEN"], "range": [1, 1.8, 3.5]}}
         }},
        {"data": {"name": "onset"}, "mark": {"type": "rule", "color": "black", "strokeWidth": 1}, "encoding": {"x": {"field": "t", "type": "quantitative"}}},
        {"data": {"values": [{"label": "20 deg"}]}, "mark": {"type": "rule", "color": "black", "strokeWidth": 1.2}, "encoding": {"x": {"datum": 460}, "y": {"datum": 60.31}, "y2": {"datum": 80.31}}},
        {"data": {"values": [{"label": "20 deg"}]}, "mark": {"type": "rule", "color": "black", "strokeWidth": 1.2}, "encoding": {"x": {"datum": 454}, "x2": {"datum": 460}, "y": {"datum": 60.31}}},
        {"data": {"values": [{"label": "20 deg"}]}, "mark": {"type": "rule", "color": "black", "strokeWidth": 1.2}, "encoding": {"x": {"datum": 454}, "x2": {"datum": 460}, "y": {"datum": 80.31}}},
        {"data": {"values": [{"label": "20 deg"}]}, "mark": {"type": "text", "align": "left", "baseline": "middle", "font": "Liberation Sans", "fontSize": 16, "fontWeight": "bold", "color": "black"}, "encoding": {"x": {"datum": 470}, "y": {"datum": 70.31}, "text": {"field": "label"}}}
      ]
    },
    {
      "width": 295, "height": 154,
      "layer": [
        {"data": {"name": "brd"}, "mark": {"type": "line", "color": "black", "strokeJoin": "round"},
         "encoding": {
           "x": {"field": "t", "type": "quantitative", "scale": {"domain": [0, 400], "nice": false}, "axis": {"values": [0,50,100,150,200,250,300,350,400], "labels": false, "title": null}},
           "y": {"field": "v", "type": "quantitative", "scale": {"domain": [-22.5, 393.3], "nice": false, "zero": false}, "axis": {"title": "BRD", "titleX": -59, "titleY": 82}},
           "strokeWidth": {"field": "cond", "type": "ordinal", "scale": {"domain": ["SHO", "ISO", "LEN"], "range": [1, 1.8, 3.5]}}
         }},
        {"data": {"name": "onset"}, "mark": {"type": "rule", "color": "black", "strokeWidth": 1}, "encoding": {"x": {"field": "t", "type": "quantitative"}}},
        {"data": {"name": "markers"}, "mark": {"type": "rule", "color": "black", "strokeWidth": 1.2, "strokeDash": [2, 3]}, "encoding": {"x": {"field": "t", "type": "quantitative"}, "y": {"datum": 318}, "y2": {"datum": -22.5}}},
        {"data": {"values": [{"label": "200 μV"}]}, "mark": {"type": "rule", "color": "black", "strokeWidth": 1.2}, "encoding": {"x": {"datum": 460}, "y": {"datum": 102.85}, "y2": {"datum": 302.85}}},
        {"data": {"values": [{"label": "200 μV"}]}, "mark": {"type": "rule", "color": "black", "strokeWidth": 1.2}, "encoding": {"x": {"datum": 454}, "x2": {"datum": 460}, "y": {"datum": 102.85}}},
        {"data": {"values": [{"label": "200 μV"}]}, "mark": {"type": "rule", "color": "black", "strokeWidth": 1.2}, "encoding": {"x": {"datum": 454}, "x2": {"datum": 460}, "y": {"datum": 302.85}}},
        {"data": {"values": [{"label": "200 μV"}]}, "mark": {"type": "text", "align": "left", "baseline": "middle", "font": "Liberation Sans", "fontSize": 16, "fontWeight": "bold", "color": "black"}, "encoding": {"x": {"datum": 470}, "y": {"datum": 202.85}, "text": {"field": "label"}}}
      ]
    },
    {
      "width": 295, "height": 154,
      "layer": [
        {"data": {"name": "bbl"}, "mark": {"type": "line", "color": "black", "strokeJoin": "round"},
         "encoding": {
           "x": {"field": "t", "type": "quantitative", "scale": {"domain": [0, 400], "nice": false}, "axis": {"values": [0,50,100,150,200,250,300,350,400], "labels": false, "title": null}},
           "y": {"field": "v", "type": "quantitative", "scale": {"domain": [-53.1, 362.7], "nice": false, "zero": false}, "axis": {"title": "BBL", "titleX": -58, "titleY": 81}},
           "strokeWidth": {"field": "cond", "type": "ordinal", "scale": {"domain": ["SHO", "ISO", "LEN"], "range": [1, 1.8, 3.5]}}
         }},
        {"data": {"name": "onset"}, "mark": {"type": "rule", "color": "black", "strokeWidth": 1}, "encoding": {"x": {"field": "t", "type": "quantitative"}}},
        {"data": {"name": "markers"}, "mark": {"type": "rule", "color": "black", "strokeWidth": 1.2, "strokeDash": [2, 3]}, "encoding": {"x": {"field": "t", "type": "quantitative"}}},
        {"data": {"values": [{"label": "200 μV"}]}, "mark": {"type": "rule", "color": "black", "strokeWidth": 1.2}, "encoding": {"x": {"datum": 460}, "y": {"datum": 71}, "y2": {"datum": 271}}},
        {"data": {"values": [{"label": "200 μV"}]}, "mark": {"type": "rule", "color": "black", "strokeWidth": 1.2}, "encoding": {"x": {"datum": 454}, "x2": {"datum": 460}, "y": {"datum": 71}}},
        {"data": {"values": [{"label": "200 μV"}]}, "mark": {"type": "rule", "color": "black", "strokeWidth": 1.2}, "encoding": {"x": {"datum": 454}, "x2": {"datum": 460}, "y": {"datum": 271}}},
        {"data": {"values": [{"label": "200 μV"}]}, "mark": {"type": "text", "align": "left", "baseline": "middle", "font": "Liberation Sans", "fontSize": 16, "fontWeight": "bold", "color": "black"}, "encoding": {"x": {"datum": 470}, "y": {"datum": 171}, "text": {"field": "label"}}}
      ]
    },
    {
      "width": 295, "height": 151,
      "layer": [
        {"data": {"name": "bbs"}, "mark": {"type": "line", "color": "black", "strokeJoin": "round"},
         "encoding": {
           "x": {"field": "t", "type": "quantitative", "scale": {"domain": [0, 400], "nice": false}, "axis": {"values": [0,50,100,150,200,250,300,350,400], "labelExpr": "datum.value % 100 === 0 ? datum.label : ''", "labelAlign": {"condition": {"test": "datum.value === 400", "value": "right"}, "value": "center"}, "labelFlush": false, "labelOverlap": false, "title": "TIME (ms)", "titleAnchor": "end", "titleAlign": "right", "titlePadding": 20}},
           "y": {"field": "v", "type": "quantitative", "scale": {"domain": [-51.3, 356.4], "nice": false, "zero": false}, "axis": {"title": "BBS", "titleX": -58, "titleY": 84}},
           "strokeWidth": {"field": "cond", "type": "ordinal", "scale": {"domain": ["SHO", "ISO", "LEN"], "range": [1, 1.8, 3.5]}}
         }},
        {"data": {"name": "onset"}, "mark": {"type": "rule", "color": "black", "strokeWidth": 1}, "encoding": {"x": {"field": "t", "type": "quantitative"}}},
        {"data": {"name": "markers"}, "mark": {"type": "rule", "color": "black", "strokeWidth": 1.2, "strokeDash": [2, 3]}, "encoding": {"x": {"field": "t", "type": "quantitative"}, "y": {"datum": 356.4}, "y2": {"datum": -40.5}}},
        {"data": {"values": [{"label": "200 μV"}]}, "mark": {"type": "rule", "color": "black", "strokeWidth": 1.2}, "encoding": {"x": {"datum": 460}, "y": {"datum": 21.6}, "y2": {"datum": 221.6}}},
        {"data": {"values": [{"label": "200 μV"}]}, "mark": {"type": "rule", "color": "black", "strokeWidth": 1.2}, "encoding": {"x": {"datum": 454}, "x2": {"datum": 460}, "y": {"datum": 21.6}}},
        {"data": {"values": [{"label": "200 μV"}]}, "mark": {"type": "rule", "color": "black", "strokeWidth": 1.2}, "encoding": {"x": {"datum": 454}, "x2": {"datum": 460}, "y": {"datum": 221.6}}},
        {"data": {"values": [{"label": "200 μV"}]}, "mark": {"type": "text", "align": "left", "baseline": "middle", "font": "Liberation Sans", "fontSize": 16, "fontWeight": "bold", "color": "black"}, "encoding": {"x": {"datum": 470}, "y": {"datum": 121.6}, "text": {"field": "label"}}}
      ]
    }
  ]
}
